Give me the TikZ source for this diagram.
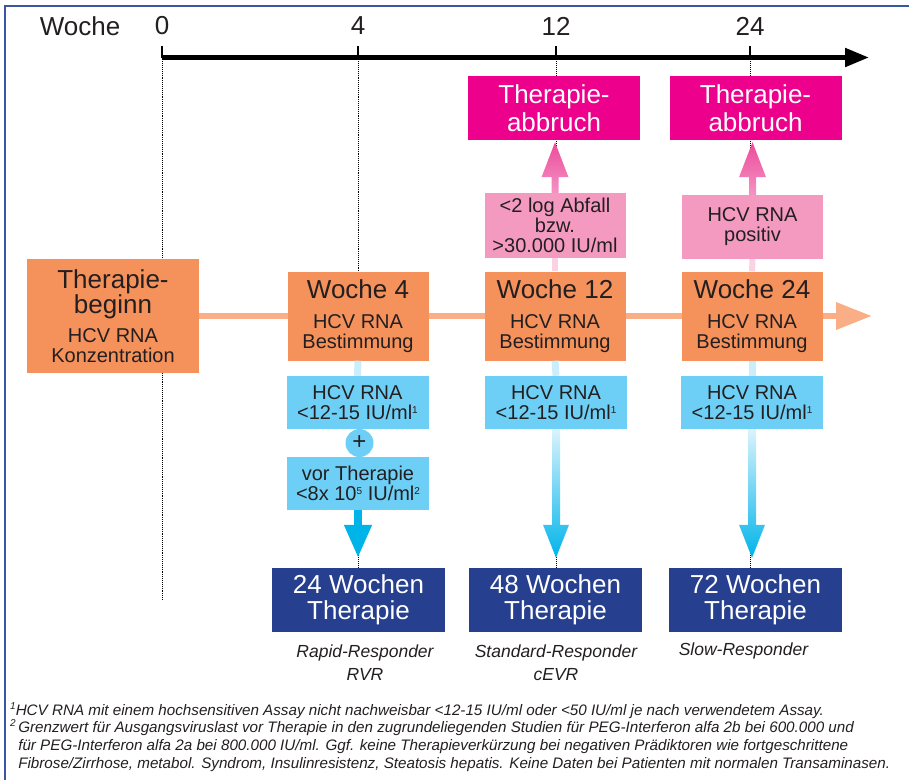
\documentclass[tikz,border=0pt]{standalone}
\usepackage{fontspec}
\setmainfont{Liberation Sans}
\usepackage{tikz}
\usetikzlibrary{arrows.meta, calc}

\definecolor{schrift}{HTML}{231F20}
\definecolor{orange1}{HTML}{F5915A}
\definecolor{orange2}{HTML}{F9AE85}
\definecolor{hellblau}{HTML}{6DCFF6}
\definecolor{pfeilblau}{HTML}{00B4EA}
\definecolor{dunkelblau}{HTML}{263F8F}
\definecolor{abbruchrot}{HTML}{EC008C}
\definecolor{rosa}{HTML}{F49AC1}
\definecolor{pfeilrosa}{HTML}{EC4B9B}
\definecolor{rahmen}{HTML}{3A55A4}

\newcommand{\grossschrift}{\fontsize{26}{26}\selectfont}
\newcommand{\mittelschrift}{\fontsize{20}{20}\selectfont}
\newcommand{\kopfschrift}{\fontsize{26}{26}\selectfont}
\newcommand{\respschrift}{\fontsize{17.5}{23}\selectfont\itshape}
\newcommand{\fussschrift}{\fontsize{15.2}{17.7}\selectfont\itshape}
\newcommand{\hoch}[1]{\raisebox{6pt}{\fontsize{10}{10}\selectfont #1}}

\begin{document}
\begin{tikzpicture}[x=1pt, y=-1pt,
    every node/.style={text=schrift, inner sep=0pt, align=center},
    kasten/.style={fill=orange1, minimum width=141pt, minimum height=89pt, font=\mittelschrift},
    hkasten/.style={fill=hellblau, minimum width=142pt, minimum height=53pt, font=\mittelschrift},
    rkasten/.style={fill=rosa, minimum width=141pt, minimum height=65pt, font=\mittelschrift},
    akasten/.style={fill=abbruchrot, text=white, minimum width=172pt, minimum height=64pt, font=\grossschrift},
    tkasten/.style={fill=dunkelblau, text=white, minimum width=173pt, minimum height=64pt, font=\grossschrift},
    resp/.style={font=\respschrift},
    fuss/.style={font=\fussschrift, align=left},
    leitlinie/.style={densely dotted, line width=0.9pt},
    verbblau/.style={line width=7pt, hellblau!35!white},
    verbrosa/.style={line width=6pt, rosa!45!white}]
    \useasboundingbox (0,0) rectangle (909,780);

    % Rahmen
    \draw[rahmen, line width=1.8pt] (5,780) -- (5,6) -- (909,6);

    % Zeitachse
    \node (woche) at (80,26) {\kopfschrift Woche};
    \foreach \x/\w in {162/0, 358/4, 556/12, 750/24} {
        \node (k\w) at (\x,26) {\kopfschrift \w};
        \coordinate (s\w) at (\x,57.5);
        \draw[line width=2.5pt] (s\w) -- ++(0,-12);
    }
    \draw[line width=5pt, -{Triangle[length=24pt, width=18pt]}] (s0) -- (869,57.5);

    % Leitlinien
    \draw[leitlinie] (s0) -- ++(0,542);
    \foreach \w in {4, 12, 24}
        \draw[leitlinie] (s\w) -- ++(0,510);

    % Therapieverlauf
    \node[kasten, minimum width=172pt, minimum height=114pt] (tbeginn) at (113,316)
        {{\grossschrift Therapie-}\\{\grossschrift beginn}\\[9pt]HCV RNA\\Konzentration};
    \coordinate (zende) at (872,316);
    \draw[orange2, line width=6.5pt, -{Triangle[length=36pt, width=26pt]}] (tbeginn.east) -- (zende);

    \node[kasten] (w4) at (358,316) {{\grossschrift Woche 4}\\[10pt]HCV RNA\\Bestimmung};
    \node[kasten] (w12) at (555,316) {{\grossschrift Woche 12}\\[10pt]HCV RNA\\Bestimmung};
    \node[kasten] (w24) at (752,316) {{\grossschrift Woche 24}\\[10pt]HCV RNA\\Bestimmung};

    \node[hkasten] (b4) at (357.5,402.5) {HCV RNA\\<12-15 IU/ml\hoch{1}};
    \node[hkasten] (vor) at (358,483) {vor Therapie\\<8x 10\hoch{5} IU/ml\hoch{2}};
    \node[hkasten] (b12) at (556,402.5) {HCV RNA\\<12-15 IU/ml\hoch{1}};
    \node[hkasten] (b24) at (752,402.5) {HCV RNA\\<12-15 IU/ml\hoch{1}};
    \node[circle, fill=hellblau, minimum size=28pt, font=\fontsize{24}{24}\selectfont] (plus) at (359.5,443) {+};

    \node[rkasten] (p12) at (555,225.5) {<2 log Abfall\\bzw.\\>30.000 IU/ml};
    \node[rkasten, minimum height=64pt] (p24) at (752.5,227) {HCV RNA\\positiv};

    \node[akasten] (m12) at (554,108) {Therapie-\\[2pt]abbruch};
    \node[akasten] (m24) at (755.5,108) {Therapie-\\[2pt]abbruch};

    \node[tkasten] (t24) at (358.5,600) {24 Wochen\\Therapie};
    \node[tkasten] (t48) at (555.5,600) {48 Wochen\\Therapie};
    \node[tkasten] (t72) at (755.5,600) {72 Wochen\\Therapie};

    % Verbindungen
    \foreach \o/\u in {w4/b4, w12/b12, w24/b24}
        \draw[verbblau] (\o.south) -- (\u.north);
    \foreach \o/\u in {w12/p12, w24/p24}
        \draw[verbrosa] (\o.north) -- (\u.south);

    \draw[pfeilblau, line width=7.5pt, -{Triangle[length=33pt, width=26pt]}]
        (vor.south) -- ($(vor.south |- t24.north)+(0,-10)$);

    \foreach \von/\nach in {b12/t48, b24/t72}
        \shade[top color=hellblau!25!white, middle color=pfeilblau, bottom color=pfeilblau]
            ($(\von.south)+(-4,0)$) -- ($(\von.south |- \nach.north)+(-4,-43)$)
            -- ($(\von.south |- \nach.north)+(-13,-43)$) -- ($(\von.south |- \nach.north)+(0,-10)$)
            -- ($(\von.south |- \nach.north)+(13,-43)$) -- ($(\von.south |- \nach.north)+(4,-43)$)
            -- ($(\von.south)+(4,0)$) -- cycle;

    \foreach \von/\nach in {p12/m12, p24/m24}
        \shade[top color=pfeilrosa, bottom color=pfeilrosa!60!white]
            ($(\von.north)+(-3.5,0)$) -- ($(\von.north |- \nach.south)+(-3.5,37)$)
            -- ($(\von.north |- \nach.south)+(-13.5,37)$) -- ($(\von.north |- \nach.south)+(0,2)$)
            -- ($(\von.north |- \nach.south)+(13.5,37)$) -- ($(\von.north |- \nach.south)+(3.5,37)$)
            -- ($(\von.north)+(3.5,0)$) -- cycle;

    % Responder
    \node[resp] (r4) at (365,663) {Rapid-Responder\\RVR};
    \node[resp] (r12) at (556,663) {Standard-Responder\\cEVR};
    \node[resp] (r24) at (743.5,651) {Slow-Responder};

    % Fussnoten
    \node[fuss, anchor=north west] (fn) at (10,702) {%
        \hoch{1}HCV RNA mit einem hochsensitiven Assay nicht nachweisbar <12-15 IU/ml oder <50 IU/ml je nach verwendetem Assay.\\
        \hoch{2}\,Grenzwert f\"ur Ausgangsviruslast vor Therapie in den zugrundeliegenden Studien f\"ur PEG-Interferon alfa 2b bei 600.000 und\\
        \phantom{\hoch{2}\,}f\"ur PEG-Interferon alfa 2a bei 800.000 IU/ml. Ggf. keine Therapieverk\"urzung bei negativen Pr\"adiktoren wie fortgeschrittene\\
        \phantom{\hoch{2}\,}Fibrose/Zirrhose, metabol. Syndrom, Insulinresistenz, Steatosis hepatis. Keine Daten bei Patienten mit normalen Transaminasen.};
\end{tikzpicture}
\end{document}
